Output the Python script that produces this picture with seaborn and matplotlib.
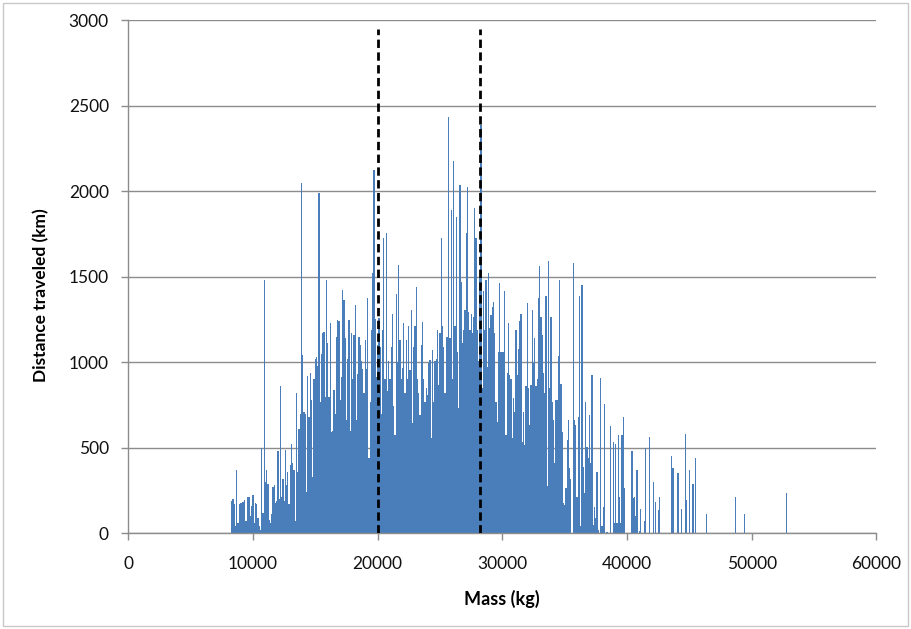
import numpy as np
import pandas as pd
import matplotlib
matplotlib.use("Agg")
import matplotlib.pyplot as plt
import seaborn as sns
from matplotlib.patches import Rectangle

# ---------------- data ----------------
grid_start_kg = 8300          # first mass bin of the dense part
grid_step_kg = 100            # bin spacing of the dense part

dense_distance_km = [
    190, 200, 170, 40, 370, 60, 170, 180, 175, 185,
    195, 70, 70, 210, 215, 100, 160, 225, 60, 180,
    170, 90, 40, 20, 500, 120, 1480, 300, 370, 290,
    80, 60, 110, 270, 280, 180, 190, 480, 200, 860,
    210, 320, 190, 490, 280, 360, 170, 400, 520, 410,
    370, 70, 820, 360, 610, 700, 2050, 1040, 710, 700,
    240, 920, 680, 940, 780, 330, 900, 1020, 1030, 980,
    1990, 770, 1050, 1170, 1180, 800, 1480, 1110, 800, 1230,
    595, 600, 840, 700, 1150, 1250, 1240, 780, 915, 1420,
    1365, 1140, 660, 1020, 1250, 600, 1170, 900, 1160, 1335,
    660, 930, 1150, 1100, 1010, 960, 820, 1130, 960, 1375,
    440, 770, 1190, 1520, 2125, 1255, 915, 1100, 1260, 1090,
    700, 1190, 1725, 900, 1755, 830, 1005, 900, 1090, 1280,
    745, 575, 1400, 1000, 1570, 1130, 900, 965, 1230, 820,
    1130, 900, 1210, 955, 1305, 645, 1090, 1210, 1440, 900,
    820, 690, 1100, 1235, 900, 770, 850, 810, 995, 1015,
    555, 1070, 770, 1005, 1020, 1190, 870, 1170, 1725, 1210,
    1090, 820, 1150, 1150, 2435, 1140, 1890, 900, 2180, 1210,
    1850, 1060, 730, 2035, 1470, 1110, 1190, 1305, 1755, 2025,
    1295, 1190, 1285, 1170, 1265, 1905, 1725, 1190, 1005, 1500,
    2385, 850, 1415, 1190, 1480, 975, 1520, 1200, 1275, 1325,
    1355, 1170, 770, 650, 1060, 1465, 1060, 1060, 1060, 1415,
    575, 935, 1230, 925, 900, 555, 790, 710, 1190, 925,
    1080, 1240, 1285, 535, 710, 515, 860, 1345, 850, 635,
    870, 1305, 995, 1140, 860, 905, 1375, 1565, 1265, 1160,
    935, 820, 1385, 275, 1590, 850, 1265, 770, 660, 410,
    780, 780, 1035, 1480, 875, 595, 175, 165, 265, 545,
    660, 380, 320, 0, 1580, 660, 635, 215, 680, 1385,
    40, 1450, 390, 235, 770, 505, 440, 690, 410, 925,
    50, 155, 90, 360, 20, 0, 910, 40, 155, 755,
    0, 10, 0, 0, 625, 0, 535, 60, 525, 60,
    575, 215, 60, 575, 680, 265,
]

tail_mass_kg = [40400, 40500, 40600, 40700, 40800, 41000, 41100, 41400,
                41500, 41800, 42100, 42300, 42500, 42600, 43600, 43700,
                44100, 44400, 44700, 44800, 45000, 45300, 45500, 46400,
                48700, 49400, 52800]
tail_distance_km = [480, 205, 210, 100, 370, 15, 145, 70,
                    500, 565, 300, 185, 135, 210, 450, 380,
                    355, 145, 580, 195, 370, 290, 440, 115,
                    215, 110, 235]

marker_mass_kg = [20000, 28200]   # dashed vertical markers
marker_top_km = 2950

x_ticks = [0, 10000, 20000, 30000, 40000, 50000, 60000]
y_ticks = [0, 500, 1000, 1500, 2000, 2500, 3000]
x_label = "Mass (kg)"
y_label = "Distance traveled (km)"

# ---------------- build table ----------------
dense_mass_kg = grid_start_kg + grid_step_kg * np.arange(len(dense_distance_km))
df = pd.DataFrame({
    "mass": np.concatenate([dense_mass_kg, np.array(tail_mass_kg)]),
    "distance": list(dense_distance_km) + list(tail_distance_km),
})

# ---------------- plot ----------------
sns.set_theme(style="white")
plt.rcParams["font.family"] = ["Lato", "DejaVu Sans"]

fig = plt.figure(figsize=(9.11, 6.29), dpi=100)
ax = fig.add_axes([128.3 / 911, 1 - 533.3 / 629, 748 / 911, 513 / 629])

bar_color = "#4A7EBB"
sns.barplot(data=df, x="mass", y="distance", native_scale=True, width=1.0,
            color=bar_color, saturation=1, errorbar=None,
            edgecolor="none", linewidth=0, ax=ax, zorder=2)

ax.vlines(marker_mass_kg, 0, marker_top_km, colors="black", linewidth=2,
          linestyles=(0, (3, 1.6)), zorder=3)

ax.set_xlim(x_ticks[0], x_ticks[-1])
ax.set_ylim(y_ticks[0], y_ticks[-1])
ax.set_xticks(x_ticks)
ax.set_xticklabels([str(t) for t in x_ticks])
ax.set_yticks(y_ticks)
ax.set_yticklabels([str(t) for t in y_ticks])

ax.set_axisbelow(True)
ax.yaxis.grid(True, color="#8C8C8C", linewidth=1.0)
ax.xaxis.grid(False)

for side in ("top", "right"):
    ax.spines[side].set_visible(False)
for side in ("left", "bottom"):
    ax.spines[side].set_color("#8C8C8C")
    ax.spines[side].set_linewidth(1.0)

ax.tick_params(axis="both", which="major", bottom=True, left=True,
               direction="out", length=5, width=1, color="#8C8C8C",
               labelsize=12.5, labelcolor="#111111")
ax.tick_params(axis="x", pad=11)
ax.tick_params(axis="y", pad=9)

ax.set_xlabel(x_label, fontsize=13, fontweight="bold", color="#000000")
ax.set_ylabel(y_label, fontsize=12.5, fontweight="bold", color="#000000")
ax.xaxis.set_label_coords(0.5, -0.11)
ax.yaxis.set_label_coords(-0.106, 0.465)

fig.patches.append(Rectangle((2.5 / 911, 3 / 629), 905 / 911, 623 / 629,
                             transform=fig.transFigure, fill=False,
                             edgecolor="#C8C8C8", linewidth=1.0))

fig.savefig("out.png", dpi=100)
